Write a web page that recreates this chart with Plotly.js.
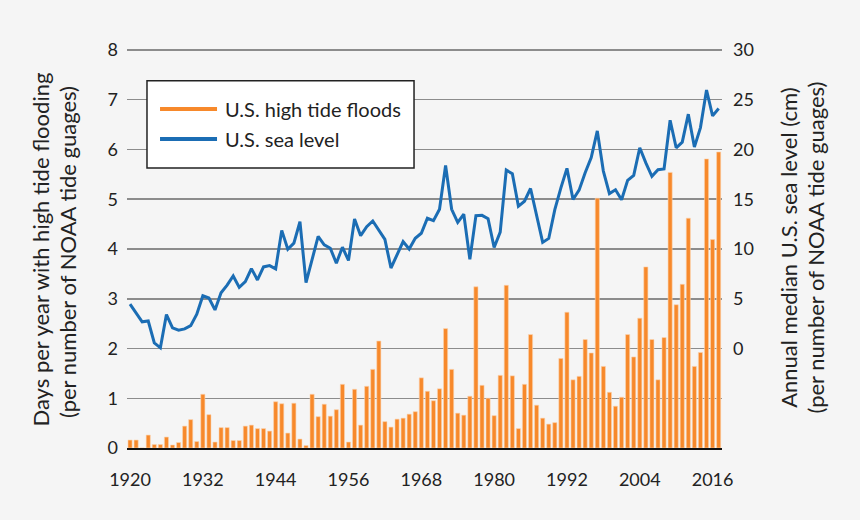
<!DOCTYPE html>
<html>
<head>
<meta charset="utf-8">
<script src="https://cdn.plot.ly/plotly-3.0.1.min.js"></script>
<style>
  html, body { margin: 0; padding: 0; background: #f5f5f5; }
  #chart { width: 860px; height: 520px; }
</style>
</head>
<body>
<div id="chart"></div>
<script>
// ---- Data ----
const years = [];
for (let y = 1920; y <= 2017; y++) years.push(y);

const floodDays = [
  0.16, 0.16, 0.00, 0.26, 0.07, 0.07, 0.22, 0.06, 0.11, 0.44,
  0.57, 0.13, 1.08, 0.67, 0.12, 0.41, 0.41, 0.15, 0.15, 0.44,
  0.46, 0.39, 0.39, 0.34, 0.93, 0.89, 0.30, 0.90, 0.18, 0.05,
  1.08, 0.63, 0.88, 0.64, 0.77, 1.28, 0.12, 1.18, 0.46, 1.24,
  1.58, 2.15, 0.53, 0.42, 0.58, 0.60, 0.68, 0.73, 1.41, 1.14,
  0.95, 1.19, 2.40, 1.58, 0.70, 0.66, 1.04, 3.24, 1.26, 1.00,
  0.65, 1.46, 3.27, 1.45, 0.39, 1.28, 2.28, 0.86, 0.60, 0.48,
  0.51, 1.80, 2.73, 1.37, 1.44, 2.18, 1.91, 5.02, 1.64, 1.12,
  0.84, 1.02, 2.28, 1.83, 2.61, 3.64, 2.18, 1.37, 2.22, 5.54,
  2.88, 3.29, 4.62, 1.64, 1.92, 5.81, 4.19, 5.95
];

const seaLevel = [
  4.45, 3.60, 2.68, 2.76, 0.57, 0.07, 3.41, 2.07, 1.84, 1.97,
  2.30, 3.45, 5.30, 5.07, 3.88, 5.60, 6.37, 7.29, 6.14, 6.72,
  8.03, 6.89, 8.20, 8.33, 8.00, 11.87, 9.98, 10.59, 12.74, 6.62,
  8.91, 11.26, 10.42, 10.08, 8.57, 10.18, 8.85, 13.02, 11.34, 12.25,
  12.82, 11.91, 10.97, 8.09, 9.50, 10.74, 10.00, 11.07, 11.58, 13.09,
  12.85, 13.99, 18.39, 13.99, 12.68, 13.49, 8.96, 13.35, 13.38, 13.05,
  10.15, 11.70, 17.93, 17.56, 14.29, 14.80, 16.08, 13.28, 10.66, 11.06,
  13.96, 16.14, 18.10, 14.97, 15.91, 17.66, 19.18, 21.87, 17.83, 15.57,
  15.95, 14.95, 16.90, 17.40, 20.17, 18.65, 17.30, 17.97, 18.04, 22.94,
  20.17, 20.74, 23.55, 20.24, 22.20, 25.98, 23.38, 24.12
];

const xTickVals = [1920, 1932, 1944, 1956, 1968, 1980, 1992, 2004, 2016];
const leftTickVals = [0, 1, 2, 3, 4, 5, 6, 7, 8];
const rightTickVals = [0, 5, 10, 15, 20, 25, 30];

const floodName = 'U.S. high tide floods';
const seaName = 'U.S. sea level';
const leftTitle1 = 'Days per year with high tide flooding';
const leftTitle2 = '(per number of NOAA tide guages)';
const rightTitle1 = 'Annual median U.S. sea level (cm)';
const rightTitle2 = '(per number of NOAA tide guages)';

// ---- Styles ----
const ORANGE = '#f7892b';
const BLUE = '#1b6db4';
const FONT = 'Lato, "Open Sans", sans-serif';

const traces = [
  {
    type: 'bar', x: years, y: floodDays, name: floodName,
    marker: { color: ORANGE, line: { color: '#fbd3ae', width: 0.6 } },
    showlegend: false, yaxis: 'y'
  },
  {
    type: 'scatter', mode: 'lines', x: years, y: seaLevel, name: seaName,
    line: { color: BLUE, width: 3 }, yaxis: 'y2', showlegend: false
  }
];

// legend box geometry (paper coordinates; plot area 127..722 x 48..448 px)
const LG = { x0: 0.0336, x1: 0.4824, y0: 0.70, y1: 0.9183,
             sx0: 0.0555, sx1: 0.1513, tx: 0.1613, r1: 0.8475, r2: 0.7725 };

const layout = {
  width: 860, height: 520,
  paper_bgcolor: '#f5f5f5', plot_bgcolor: '#f5f5f5',
  font: { family: FONT, size: 18, color: '#222' },
  margin: { l: 127, r: 138, t: 48, b: 72 },
  bargap: 0.32,
  showlegend: false,
  xaxis: {
    range: [1919.5, 2017.55], tickvals: xTickVals, ticks: '',
    showgrid: false, zeroline: false,
    showline: true, linecolor: '#111', linewidth: 2,
    ticklabelstandoff: 14, tickfont: { size: 18 }
  },
  yaxis: {
    range: [0, 8.04], tickvals: leftTickVals, ticks: '',
    showgrid: true, gridcolor: '#8c8c8c', gridwidth: 1.5,
    zeroline: false, showline: false, ticklabelstandoff: 8,
    tickfont: { size: 18 }
  },
  yaxis2: {
    overlaying: 'y', side: 'right', range: [-10, 30.2],
    tickvals: rightTickVals, ticks: '', showgrid: false, zeroline: false,
    ticklabelstandoff: 10, tickfont: { size: 18 }
  },
  shapes: [
    { type: 'rect', xref: 'paper', yref: 'paper', x0: LG.x0, x1: LG.x1, y0: LG.y0, y1: LG.y1,
      fillcolor: '#ffffff', line: { color: '#222', width: 1.5 }, layer: 'above' },
    { type: 'line', xref: 'paper', yref: 'paper', x0: LG.sx0, x1: LG.sx1, y0: LG.r1, y1: LG.r1,
      line: { color: ORANGE, width: 4 }, layer: 'above' },
    { type: 'line', xref: 'paper', yref: 'paper', x0: LG.sx0, x1: LG.sx1, y0: LG.r2, y1: LG.r2,
      line: { color: BLUE, width: 4 }, layer: 'above' }
  ],
  annotations: [
    { xref: 'paper', yref: 'paper', x: LG.tx, y: LG.r1, xanchor: 'left', yanchor: 'middle',
      text: floodName, showarrow: false, font: { size: 20 } },
    { xref: 'paper', yref: 'paper', x: LG.tx, y: LG.r2, xanchor: 'left', yanchor: 'middle',
      text: seaName, showarrow: false, font: { size: 20 } },
    { xref: 'paper', yref: 'paper', x: -0.147, y: 0.495, xanchor: 'center', yanchor: 'middle',
      textangle: -90, text: leftTitle1, showarrow: false, font: { size: 22 } },
    { xref: 'paper', yref: 'paper', x: -0.1008, y: 0.49, xanchor: 'center', yanchor: 'middle',
      textangle: -90, text: leftTitle2, showarrow: false, font: { size: 22 } },
    { xref: 'paper', yref: 'paper', x: 1.1106, y: 0.50, xanchor: 'center', yanchor: 'middle',
      textangle: -90, text: rightTitle1, showarrow: false, font: { size: 22 } },
    { xref: 'paper', yref: 'paper', x: 1.1555, y: 0.50, xanchor: 'center', yanchor: 'middle',
      textangle: -90, text: rightTitle2, showarrow: false, font: { size: 22 } }
  ]
};

Plotly.newPlot('chart', traces, layout, { staticPlot: true, displayModeBar: false });
</script>
</body>
</html>
